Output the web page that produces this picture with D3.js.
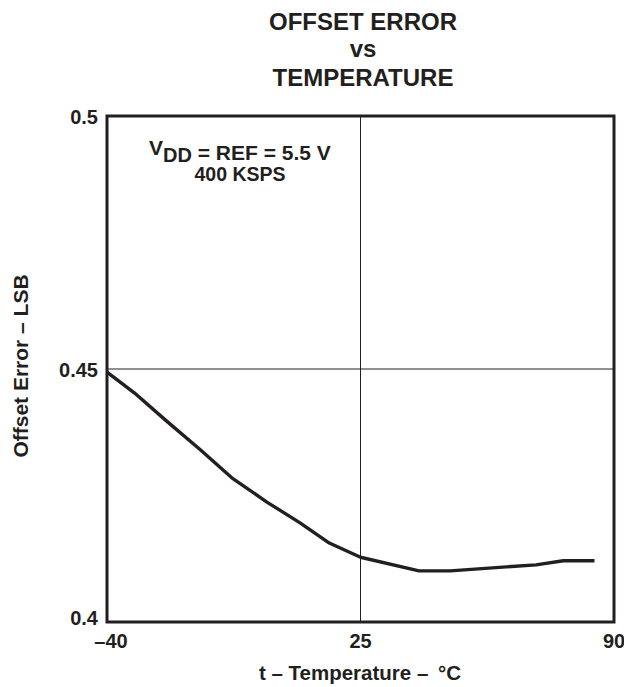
<!DOCTYPE html>
<html><head><meta charset="utf-8">
<script src="https://cdn.jsdelivr.net/npm/d3@7"></script>
<style>body{margin:0;background:#fff}text{font-family:"Liberation Sans",Arial,sans-serif;font-weight:bold;fill:#231f20}</style>
</head><body><svg id="c" width="624" height="687"></svg>
<script>
const temps = [-40,-33,-25,-16,-8,1,9.5,17,25,40,48,70,77,85];
const offsetErr = [0.4494,0.4453,0.4399,0.4340,0.4285,0.4237,0.4196,0.4156,0.4128,0.4101,0.4101,0.4113,0.4121,0.4121];
const xTicks = [-40,25,90];
const xTickLabels = ["\u201340","25","90"];
const yTicks = [0.4,0.45,0.5];
const yTickLabels = ["0.4","0.45","0.5"];
const titleLines = ["OFFSET ERROR","vs","TEMPERATURE"];

const svg = d3.select("#c");
const L=107,R=614,T=116,B=622;
const x = d3.scaleLinear().domain([-40,90]).range([L,R]);
const y = d3.scaleLinear().domain([0.4,0.5]).range([B,T]);
const ink="#231f20";

// grid
svg.append("line").attr("x1",x(25)).attr("x2",x(25)).attr("y1",T).attr("y2",B).attr("stroke",ink).attr("stroke-width",1);
svg.append("line").attr("x1",L).attr("x2",R).attr("y1",y(0.45)).attr("y2",y(0.45)).attr("stroke",ink).attr("stroke-width",1);

// curve
svg.append("path").datum(temps.map((t,i)=>[t,offsetErr[i]]))
  .attr("d",d3.line().x(d=>x(d[0])).y(d=>y(d[1])))
  .attr("fill","none").attr("stroke",ink).attr("stroke-width",3.4).attr("stroke-linejoin","round");

// frame
svg.append("rect").attr("x",L).attr("y",T).attr("width",R-L).attr("height",B-T).attr("fill","none").attr("stroke",ink).attr("stroke-width",3);

// tick labels
xTicks.forEach((v,i)=>svg.append("text").attr("x",x(v)+(i===0?4:0)).attr("y",648).attr("text-anchor","middle").attr("font-size",20).text(xTickLabels[i]));
yTicks.forEach((v,i)=>svg.append("text").attr("x",98).attr("y",y(v)+(i===0?3:8)).attr("text-anchor","end").attr("font-size",20).text(yTickLabels[i]));

// title
const tY=[30,57,86];
titleLines.forEach((s,i)=>svg.append("text").attr("x",363).attr("y",tY[i]).attr("text-anchor","middle").attr("font-size",24).text(s));

// axis titles
svg.append("text").attr("x",360).attr("y",680).attr("text-anchor","middle").attr("font-size",20.5).text("t \u2013 Temperature \u2013 \u2009\u00B0C");
svg.append("text").attr("transform","translate(28,366) rotate(-90)").attr("text-anchor","middle").attr("font-size",21).text("Offset Error \u2013 LSB");

// annotation
const a = svg.append("text").attr("x",149).attr("y",155).attr("text-anchor","start").attr("font-size",21);
a.append("tspan").text("V");
a.append("tspan").attr("dy",7).attr("font-size",20).text("DD");
a.append("tspan").attr("dy",-2).text(" = REF = 5.5 V");
svg.append("text").attr("x",240).attr("y",181).attr("text-anchor","middle").attr("font-size",19.5).text("400 KSPS");
</script></body></html>
